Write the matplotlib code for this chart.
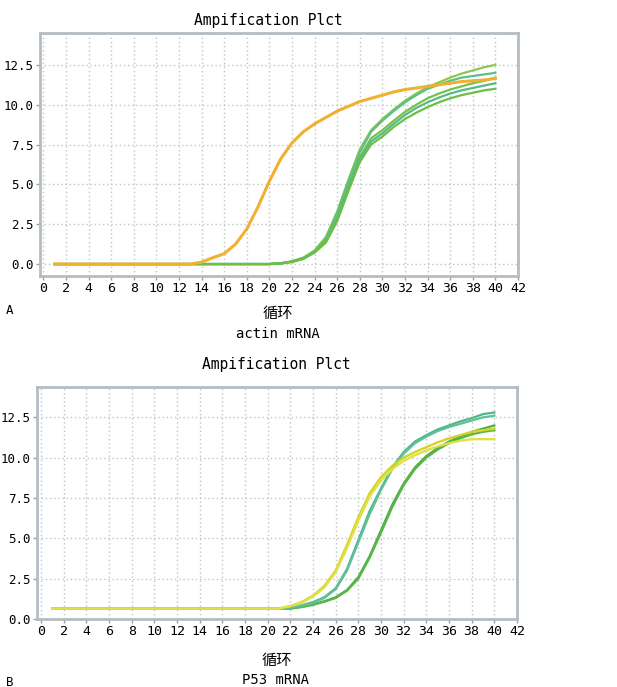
import matplotlib
matplotlib.use("Agg")
import matplotlib.pyplot as plt
import numpy as np

plt.rcParams['font.family'] = ['DejaVu Sans Mono', 'Noto Sans CJK SC']

cycles = list(range(1, 41))

# ---- Panel A: actin mRNA ----
actin_orange = [0]*13 + [0.12, 0.4, 0.65, 1.25, 2.2, 3.6, 5.2, 6.6, 7.6, 8.3, 8.8, 9.2,
                9.6, 9.9, 10.2, 10.4, 10.6, 10.8, 10.95, 11.05, 11.15, 11.25, 11.35, 11.45, 11.5, 11.55, 11.65]
actin_g1 = [0]*20 + [0.05, 0.18, 0.4, 0.85, 1.7, 3.3, 5.3, 7.2, 8.4, 9.1, 9.7, 10.25, 10.7, 11.1,
                     11.4, 11.7, 11.95, 12.15, 12.35, 12.5]
actin_g2 = [0]*20 + [0.05, 0.16, 0.38, 0.8, 1.6, 3.2, 5.2, 7.0, 8.3, 9.0, 9.6, 10.15, 10.6, 11.0,
                     11.25, 11.5, 11.7, 11.8, 11.9, 12.0]
actin_g3 = [0]*20 + [0.04, 0.15, 0.36, 0.78, 1.5, 2.9, 4.9, 6.7, 7.9, 8.4, 9.0, 9.55, 10.0, 10.4,
                     10.7, 10.95, 11.15, 11.35, 11.5, 11.7]
actin_g4 = [0]*20 + [0.04, 0.14, 0.34, 0.75, 1.4, 2.8, 4.8, 6.6, 7.7, 8.2, 8.8, 9.35, 9.8, 10.15,
                     10.45, 10.7, 10.9, 11.05, 11.2, 11.35]
actin_g5 = [0]*20 + [0.03, 0.13, 0.32, 0.72, 1.35, 2.7, 4.6, 6.4, 7.5, 8.0, 8.6, 9.1, 9.5, 9.85,
                     10.15, 10.4, 10.6, 10.75, 10.9, 11.0]

# ---- Panel B: P53 mRNA ----
base = 0.65
p53_y1 = [base]*21 + [0.8, 1.05, 1.45, 2.05, 3.0, 4.6, 6.3, 7.8, 8.8, 9.5, 10.0, 10.35, 10.65,
                      10.95, 11.2, 11.4, 11.6, 11.7, 11.8]
p53_y2 = [base]*21 + [0.8, 1.0, 1.4, 1.95, 2.9, 4.4, 6.1, 7.6, 8.6, 9.3, 9.8, 10.15, 10.45,
                      10.7, 10.9, 11.05, 11.15, 11.15, 11.15]
p53_t1 = [base]*21 + [0.7, 0.85, 1.05, 1.35, 1.9, 3.1, 4.9, 6.7, 8.1, 9.4, 10.35, 11.0, 11.4,
                      11.75, 12.0, 12.25, 12.45, 12.7, 12.8]
p53_t2 = [base]*21 + [0.7, 0.83, 1.0, 1.3, 1.85, 3.0, 4.75, 6.5, 8.0, 9.3, 10.25, 10.9, 11.3,
                      11.65, 11.9, 12.1, 12.3, 12.5, 12.6]
p53_g1 = [base]*21 + [0.65, 0.75, 0.9, 1.1, 1.35, 1.8, 2.6, 3.9, 5.5, 7.1, 8.4, 9.4, 10.1,
                      10.6, 11.0, 11.3, 11.6, 11.8, 12.0]
p53_g2 = [base]*21 + [0.65, 0.74, 0.88, 1.07, 1.3, 1.75, 2.5, 3.8, 5.35, 6.95, 8.3, 9.3, 10.0,
                      10.5, 10.9, 11.2, 11.45, 11.6, 11.7]

x_ticks = list(range(0, 43, 2))
y_ticks = [0.0, 2.5, 5.0, 7.5, 10.0, 12.5]
title_text = "Ampification Plct"
xlabel_text = "循环"

W, H = 617, 687
fig = plt.figure(figsize=(W/100, H/100), dpi=100)

def style_ax(ax, ylim, xlim):
    ax.set_xlim(*xlim)
    ax.set_ylim(*ylim)
    ax.set_xticks(x_ticks)
    ax.set_xticklabels([str(t) for t in x_ticks], fontsize=9.5)
    ax.set_yticks(y_ticks)
    ax.set_yticklabels([f"{v:.1f}" for v in y_ticks], fontsize=9)
    ax.grid(True, linestyle=(0, (1, 2)), color='#c0c4c8', lw=1.0)
    ax.set_axisbelow(True)
    for s in ax.spines.values():
        s.set_color('#b4bcc4')
        s.set_linewidth(2)
    ax.tick_params(axis='both', direction='out', length=3, width=1, color='#9aa0a6', pad=1.5)

axA = fig.add_axes([40/W, 1-276/H, 478/W, 243/H])
style_ax(axA, (-0.75, 14.5), (-0.3, 42))
green_cols_A = ['#8cc84c', '#5cbf8a', '#74c24a', '#56b98a', '#6cbf40']
for vals, c in zip([actin_g1, actin_g2, actin_g3, actin_g4, actin_g5], green_cols_A):
    axA.plot(cycles, vals, color=c, lw=1.6)
axA.plot(cycles, actin_orange, color='#f0b030', lw=2.2)

axB = fig.add_axes([36.7/W, 1-619/H, 480.3/W, 232.3/H])
style_ax(axB, (0, 14.4), (-0.38, 42))
for vals, c in zip([p53_g1, p53_g2], ['#4caf46', '#5ab54a']):
    axB.plot(cycles, vals, color=c, lw=1.6)
for vals, c in zip([p53_t1, p53_t2], ['#4db88a', '#60c098']):
    axB.plot(cycles, vals, color=c, lw=1.6)
for vals, c in zip([p53_y1, p53_y2], ['#d4d428', '#e0e048']):
    axB.plot(cycles, vals, color=c, lw=1.7)

def ftxt(x, y, s, **kw):
    fig.text(x/W, 1-y/H, s, ha=kw.pop('ha', 'center'), va='center', **kw)

ftxt(268, 20, title_text, fontsize=10.5)
ftxt(276, 364, title_text, fontsize=10.5)
ftxt(278, 313, xlabel_text, fontsize=11, family=['Noto Sans CJK SC'])
ftxt(278, 334, "actin mRNA", fontsize=10)
ftxt(10, 310, "A", fontsize=9)
ftxt(277, 660, xlabel_text, fontsize=11, family=['Noto Sans CJK SC'])
ftxt(275, 680, "P53 mRNA", fontsize=10)
ftxt(10, 682, "B", fontsize=9)

fig.savefig("out.png", dpi=100)
